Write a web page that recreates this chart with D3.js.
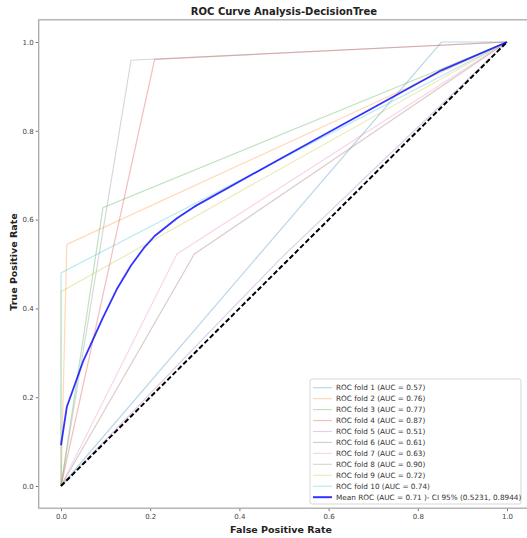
<!DOCTYPE html>
<html><head><meta charset="utf-8">
<script src="https://cdn.jsdelivr.net/npm/d3@7"></script>
<style>html,body{margin:0;padding:0;background:#fff;}svg{display:block;font-family:"DejaVu Sans",sans-serif;}</style>
</head><body>
<script>
const foldLabels = ["ROC fold 1 (AUC = 0.57)","ROC fold 2 (AUC = 0.76)","ROC fold 3 (AUC = 0.77)","ROC fold 4 (AUC = 0.87)","ROC fold 5 (AUC = 0.51)","ROC fold 6 (AUC = 0.61)","ROC fold 7 (AUC = 0.63)","ROC fold 8 (AUC = 0.90)","ROC fold 9 (AUC = 0.72)","ROC fold 10 (AUC = 0.74)"];
const foldFpr = [[0,0.853,1],[0,0.013,1],[0,0.094,1],[0,0.21,1],[0,0.49,1],[0,0.299,1],[0,0.26,1],[0,0.157,1],[0,0,1],[0,0,1]];
const foldTpr = [[0,1.0,1],[0,0.544,1],[0,0.627,1],[0,0.961,1],[0,0.51,1],[0,0.5225,1],[0,0.5225,1],[0,0.959,1],[0,0.4376,1],[0,0.48,1]];
const foldColors = ["#1f77b4","#ff7f0e","#2ca02c","#d62728","#9467bd","#8c564b","#e377c2","#7f7f7f","#bcbd22","#17becf"];
const meanLabel = "Mean ROC (AUC = 0.71 )- CI 95% (0.5231, 0.8944)";
const meanFpr = [0,0.013,0.05,0.094,0.125,0.157,0.185,0.21,0.26,0.299,0.49,0.853,1];
const meanTpr = [0.0918,0.1779,0.282,0.3793,0.443,0.4966,0.535,0.5631,0.6032,0.6292,0.736,0.9362,1];
const tickValues = [0,0.2,0.4,0.6,0.8,1.0];
const titleText = "ROC Curve Analysis-DecisionTree";
const xLabel = "False Positive Rate";
const yLabel = "True Positive Rate";

const W = 527, H = 538;
const svg = d3.select("body").append("svg").attr("width", W).attr("height", H);
const x = d3.scaleLinear().domain([-0.05, 1.05]).range([38.7, 529.3]);
const y = d3.scaleLinear().domain([-0.05, 1.05]).range([508.2, 19.8]);

const line = d3.line().x(d => x(d[0])).y(d => y(d[1]));

// folds
foldFpr.forEach((fp, i) => {
  const pts = fp.map((v, j) => [v, foldTpr[i][j]]);
  svg.append("path").attr("d", line(pts)).attr("fill", "none")
    .attr("stroke", foldColors[i]).attr("stroke-opacity", 0.3).attr("stroke-width", 1.2);
});
// diagonal
svg.append("path").attr("d", line([[0,0],[1,1]])).attr("fill","none")
  .attr("stroke","#000").attr("stroke-width",2).attr("stroke-dasharray","5,2.5");
// mean
svg.append("path").attr("d", line(meanFpr.map((v,j)=>[v,meanTpr[j]]))).attr("fill","none")
  .attr("stroke","#0000ff").attr("stroke-opacity",0.8).attr("stroke-width",1.8).attr("stroke-linejoin","round");

// axes
const xAxis = svg.append("g").attr("transform", `translate(0,${508.2})`)
  .call(d3.axisBottom(x).tickValues(tickValues).tickFormat(d3.format(".1f")).tickSize(3).tickSizeOuter(0));
const yAxis = svg.append("g").attr("transform", `translate(${38.7},0)`)
  .call(d3.axisLeft(y).tickValues(tickValues).tickFormat(d3.format(".1f")).tickSize(3).tickSizeOuter(0));
[xAxis, yAxis].forEach(g => {
  g.select(".domain").remove();
  g.selectAll(".tick line").attr("stroke", "#555").attr("stroke-width", 0.8);
  g.selectAll(".tick text").attr("fill", "#444").style("font-size", "7px").style("font-family","DejaVu Sans");
});
xAxis.selectAll(".tick text").attr("dy","0.9em").attr("y",4.5);
yAxis.selectAll(".tick text").attr("x",-5);

// frame
svg.append("rect").attr("x",38.7).attr("y",19.8).attr("width",529.3-38.7).attr("height",508.2-19.8)
  .attr("fill","none").attr("stroke","#aaa").attr("stroke-width",1.3);

// title & labels
svg.append("text").attr("x",284).attr("y",15).attr("text-anchor","middle")
  .style("font-weight","bold").style("font-size","10px").attr("fill","#222").text(titleText);
svg.append("text").attr("x",281).attr("y",532.5).attr("text-anchor","middle")
  .style("font-weight","bold").style("font-size","9.5px").attr("fill","#222").text(xLabel);
svg.append("text").attr("transform","translate(17,262) rotate(-90)").attr("text-anchor","middle")
  .style("font-weight","bold").style("font-size","9.5px").attr("fill","#222").text(yLabel);

// legend
const lg = svg.append("g");
lg.append("rect").attr("x",310).attr("y",379).attr("width",211).attr("height",125).attr("rx",2)
  .attr("fill","#fff").attr("fill-opacity",0.85).attr("stroke","#ccc").attr("stroke-width",0.8);
const entries = foldLabels.map((t,i)=>({t, c: foldColors[i], o: 0.3, w: 1.2}))
  .concat([{t: meanLabel, c: "#0000ff", o: 0.8, w: 2}]);
entries.forEach((e, i) => {
  const yy = 387.7 + i * 10.95;
  lg.append("line").attr("x1",313).attr("x2",332).attr("y1",yy).attr("y2",yy)
    .attr("stroke",e.c).attr("stroke-opacity",e.o).attr("stroke-width",e.w);
  lg.append("text").attr("x",336).attr("y",yy).attr("dy","0.35em")
    .style("font-size","7.3px").attr("fill","#333").text(e.t);
});
</script>
</body></html>
